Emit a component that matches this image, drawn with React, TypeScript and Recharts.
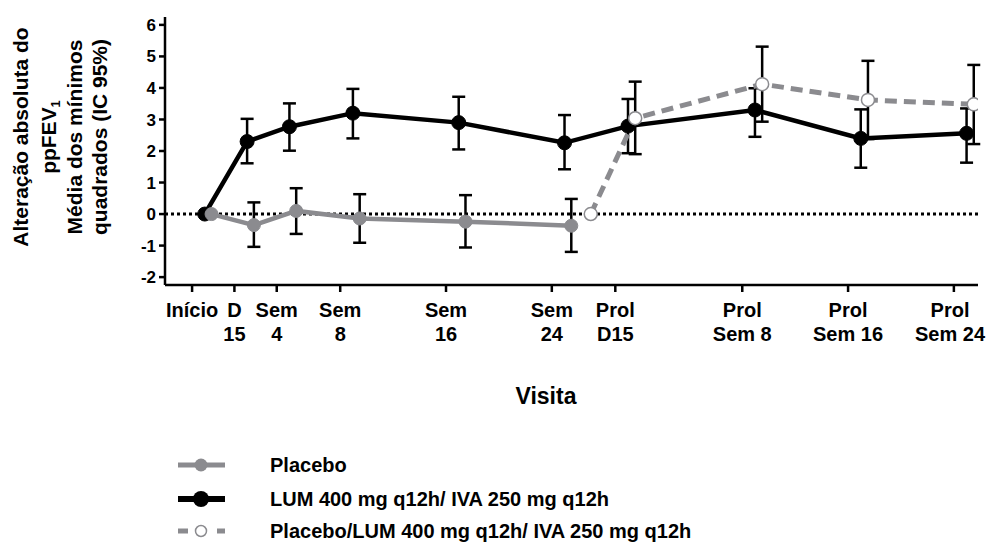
import { ErrorBar, Line, LineChart, ReferenceLine, XAxis, YAxis } from "recharts";

const FONT = '"Liberation Sans", Arial, sans-serif';

// visits along the x axis (uneven spacing as in the original)
const visitX = [0, 1, 2, 3.5, 6, 8.5, 10, 13, 15.5, 18];
const visitTop = ["Início", "D", "Sem", "Sem", "Sem", "Sem", "Prol", "Prol", "Prol", "Prol"];
const visitBottom = ["", "15", "4", "8", "16", "24", "D15", "Sem 8", "Sem 16", "Sem 24"];
const yTicks = [-2, -1, 0, 1, 2, 3, 4, 5, 6];

// Placebo
const placeboIdx = [0, 1, 2, 3, 4, 5];
const placeboMean = [0, -0.35, 0.1, -0.14, -0.24, -0.37];
const placeboLow = [null, -1.04, -0.63, -0.91, -1.06, -1.2];
const placeboHigh = [null, 0.37, 0.82, 0.63, 0.6, 0.48];

// LUM 400 mg q12h/ IVA 250 mg q12h
const lumIdx = [0, 1, 2, 3, 4, 5, 6, 7, 8, 9];
const lumMean = [0, 2.3, 2.77, 3.2, 2.9, 2.26, 2.79, 3.3, 2.4, 2.56];
const lumLow = [null, 1.61, 2.01, 2.4, 2.05, 1.42, 1.93, 2.45, 1.47, 1.63];
const lumHigh = [null, 3.02, 3.51, 3.97, 3.72, 3.14, 3.65, 3.99, 3.32, 3.35];

// Placebo/LUM 400 mg q12h/ IVA 250 mg q12h (baseline sits between Sem 24 and Prol D15)
const switchX = [8.95, 10, 13, 15.5, 18];
const switchMean = [0, 3.04, 4.12, 3.62, 3.48];
const switchLow = [null, 1.9, 2.93, 2.38, 2.22];
const switchHigh = [null, 4.2, 5.31, 4.86, 4.73];

const GRAY = "#8b8b8f";

const build = (xs, mean, low, high, shift) =>
  xs.map((x, i) => ({
    x: x + shift,
    y: mean[i],
    err: low[i] == null ? null : [mean[i] - low[i], high[i] - mean[i]],
  }));

const placeboData = build(placeboIdx.map((i) => visitX[i]), placeboMean, placeboLow, placeboHigh, 0.46);
const lumData = build(lumIdx.map((i) => visitX[i]), lumMean, lumLow, lumHigh, 0.3);
const switchData = build(switchX, switchMean, switchLow, switchHigh, 0.47);

const VisitTick = ({ x, y, payload }) => {
  const i = visitX.indexOf(payload.value);
  // keep the last label inside the picture
  const cx = Math.min(x, 950);
  return (
    <text x={cx} textAnchor="middle" fontFamily={FONT} fontSize={20} fontWeight="bold" fill="#000">
      <tspan x={cx} y={y + 23}>{visitTop[i]}</tspan>
      <tspan x={cx} y={y + 47}>{visitBottom[i]}</tspan>
    </text>
  );
};

const YTitle = () => (
  <text
    transform="translate(0,137) rotate(-90)"
    textAnchor="middle"
    fontFamily={FONT}
    fontSize={21}
    fontWeight="bold"
    fill="#000"
  >
    <tspan x={0} y={28}>Alteração absoluta do</tspan>
    <tspan x={0} y={56}>
      ppFEV
      <tspan fontSize={13} dy={4}>1</tspan>
    </tspan>
    <tspan x={0} y={82}>Média dos mínimos</tspan>
    <tspan x={0} y={107}>quadrados (IC 95%)</tspan>
  </text>
);

const XTitle = () => (
  <text x={546} y={404} textAnchor="middle" fontFamily={FONT} fontSize={23} fontWeight="bold" fill="#000">
    Visita
  </text>
);

const legendItems = [
  { name: "Placebo", kind: "placebo" },
  { name: "LUM 400 mg q12h/ IVA 250 mg q12h", kind: "lum" },
  { name: "Placebo/LUM 400 mg q12h/ IVA 250 mg q12h", kind: "switch" },
];

const LegendIcon = ({ kind }) => {
  if (kind === "switch") {
    return (
      <svg width={50} height={20}>
        <line x1={1} y1={10} x2={11} y2={10} stroke={GRAY} strokeWidth={5} />
        <circle cx={24} cy={10} r={5.5} fill="#fff" stroke={GRAY} strokeWidth={1.5} />
        <line x1={40} y1={10} x2={48} y2={10} stroke={GRAY} strokeWidth={5} />
      </svg>
    );
  }
  const c = kind === "lum" ? "#000" : GRAY;
  return (
    <svg width={50} height={20}>
      <line x1={1} y1={10} x2={48} y2={10} stroke={c} strokeWidth={kind === "lum" ? 6 : 5} />
      <circle cx={24} cy={10} r={kind === "lum" ? 8 : 6.5} fill={c} />
    </svg>
  );
};

const App = () => (
  <div style={{ position: "absolute", left: 0, top: 0, width: 987, height: 542, background: "#fff" }}>
    <LineChart width={987} height={542} margin={{ top: 17, right: 9, left: 125, bottom: 197 }}>
      <XAxis
        dataKey="x"
        type="number"
        domain={[-0.64, 18.57]}
        ticks={visitX}
        interval={0}
        allowDataOverflow
        height={60}
        tick={<VisitTick />}
        tickSize={7}
        tickMargin={2}
        axisLine={{ stroke: "#000", strokeWidth: 2.5 }}
        tickLine={{ stroke: "#000", strokeWidth: 2.5 }}
        label={<XTitle />}
      />
      <YAxis
        type="number"
        domain={[-2.25, 6.25]}
        ticks={yTicks}
        interval={0}
        allowDataOverflow
        width={40}
        tickSize={6}
        tickMargin={3}
        tick={{ fontFamily: FONT, fontSize: 17, fontWeight: "bold", fill: "#000" }}
        axisLine={{ stroke: "#000", strokeWidth: 2.5 }}
        tickLine={{ stroke: "#000", strokeWidth: 2.5 }}
        label={<YTitle />}
      />
      <ReferenceLine y={0} stroke="#000" strokeWidth={3} strokeDasharray="3 3" />
      <Line
        data={lumData}
        dataKey="y"
        stroke="#000"
        strokeWidth={4.5}
        dot={{ r: 7, fill: "#000", stroke: "#000", strokeWidth: 1 }}
        isAnimationActive={false}
      >
        <ErrorBar dataKey="err" width={6.5} stroke="#000" strokeWidth={2.5} />
      </Line>
      <Line
        data={placeboData}
        dataKey="y"
        stroke={GRAY}
        strokeWidth={4.5}
        dot={{ r: 6.5, fill: GRAY, stroke: GRAY, strokeWidth: 1 }}
        isAnimationActive={false}
      >
        <ErrorBar dataKey="err" width={6.5} stroke="#000" strokeWidth={2.5} />
      </Line>
      <Line
        data={switchData}
        dataKey="y"
        stroke={GRAY}
        strokeWidth={5}
        strokeDasharray="12 7"
        dot={{ r: 6.5, fill: "#fff", stroke: GRAY, strokeWidth: 1.5, strokeDasharray: "0" }}
        isAnimationActive={false}
      >
        <ErrorBar dataKey="err" width={6.5} stroke="#000" strokeWidth={2.5} />
      </Line>
    </LineChart>
    {legendItems.map((item, i) => (
      <div
        key={item.name}
        style={{
          position: "absolute",
          left: 177,
          top: [465, 499, 531][i] - 12,
          height: 24,
          display: "flex",
          alignItems: "center",
          fontFamily: FONT,
          fontSize: 20,
          fontWeight: "bold",
          color: "#000",
          whiteSpace: "nowrap",
        }}
      >
        <LegendIcon kind={item.kind} />
        <span style={{ marginLeft: 43 }}>{item.name}</span>
      </div>
    ))}
  </div>
);

export default App;
